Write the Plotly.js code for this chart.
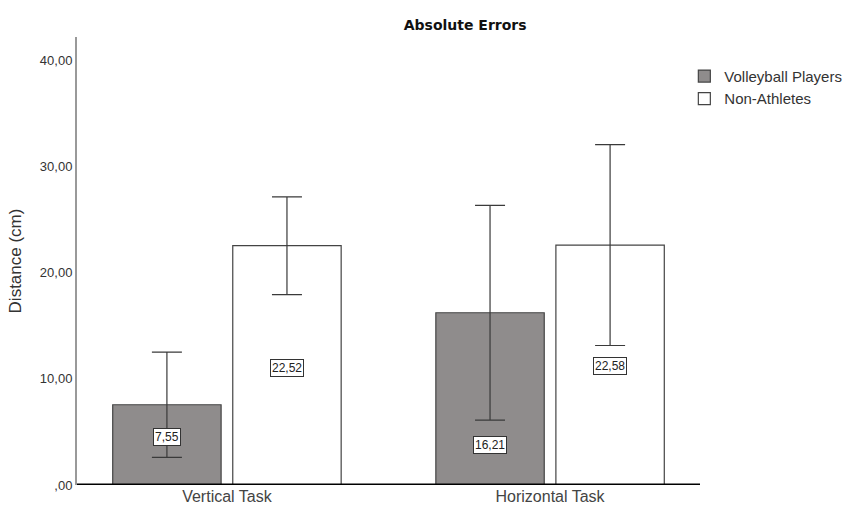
<!DOCTYPE html>
<html>
<head>
<meta charset="utf-8">
<script src="https://cdn.plot.ly/plotly-3.0.1.min.js"></script>
<style>html,body{margin:0;padding:0;background:#fff;}#chart{width:848px;height:507px;}</style>
</head>
<body>
<div id="chart"></div>
<script>
const categories = ["Vertical Task", "Horizontal Task"];
const seriesNames = ["Volleyball Players", "Non-Athletes"];
const volleyMeans = [7.55, 16.21];
const volleyErr = [4.95, 10.1];
const nonAthMeans = [22.52, 22.58];
const nonAthErr = [4.6, 9.45];
const valueLabels = [["7,55", "16,21"], ["22,52", "22,58"]];
const yTickVals = [0, 10, 20, 30, 40];
const yTickText = [",00", "10,00", "20,00", "30,00", "40,00"];

const errStyle = {type: 'data', visible: true, color: '#3a3a3a', thickness: 1.2, width: 15};
const traces = [
  {type: 'bar', name: seriesNames[0], x: categories, y: volleyMeans,
   error_y: Object.assign({array: volleyErr}, errStyle),
   marker: {color: '#8f8c8c', line: {color: '#444', width: 1.2}}},
  {type: 'bar', name: seriesNames[1], x: categories, y: nonAthMeans,
   error_y: Object.assign({array: nonAthErr}, errStyle),
   marker: {color: '#ffffff', line: {color: '#444', width: 1.2}}}
];

// label vertical positions (fraction of bar height) and horizontal offsets per series
const labelYFrac = [[0.6, 0.235], [0.49, 0.495]];
const offsets = [-0.186, 0.186];
const annotations = [];
[volleyMeans, nonAthMeans].forEach((arr, s) => {
  arr.forEach((v, i) => {
    annotations.push({
      x: i + offsets[s], y: v * labelYFrac[s][i], xref: 'x', yref: 'y',
      text: valueLabels[s][i], showarrow: false,
      font: {family: 'Arial, Liberation Sans, sans-serif', size: 12, color: '#222'},
      bgcolor: '#ffffff', bordercolor: '#333', borderwidth: 1, borderpad: 1
    });
  });
});

const layout = {
  width: 848, height: 507,
  margin: {l: 77, r: 148, t: 37, b: 22, pad: 0, autoexpand: false},
  paper_bgcolor: '#fff', plot_bgcolor: '#fff',
  barmode: 'group', bargap: 0.257, bargroupgap: 0.097,
  title: {text: '<b>Absolute Errors</b>', x: 0.623, xref: 'paper', xanchor: 'center', y: 0.95, yanchor: 'middle',
          font: {family: 'DejaVu Sans, sans-serif', size: 14, color: '#111'}},
  xaxis: {type: 'category', range: [-0.464, 1.464], showgrid: false, zeroline: false,
          showline: false, ticks: '', tickfont: {family: 'Arial, Liberation Sans, sans-serif', size: 16, color: '#444'}},
  yaxis: {range: [0, 42.16], tickvals: yTickVals, ticktext: yTickText, showgrid: false, zeroline: false,
          showline: true, linecolor: '#999', linewidth: 2, ticks: '', ticklen: 0,
          tickfont: {family: 'Arial, Liberation Sans, sans-serif', size: 13, color: '#333'},
          title: {text: 'Distance (cm)', standoff: 14, font: {family: 'Arial, Liberation Sans, sans-serif', size: 17, color: '#333'}}},
  legend: {xref: 'container', yref: 'container', x: 0.807, y: 0.882, xanchor: 'left', yanchor: 'top', bgcolor: 'rgba(0,0,0,0)',
           font: {family: 'Arial, Liberation Sans, sans-serif', size: 15, color: '#333'},
           itemwidth: 30, tracegroupgap: 0},
  shapes: [{type: 'line', xref: 'paper', yref: 'y', x0: 0, x1: 1, y0: 0, y1: 0,
            line: {color: '#000', width: 3}}],
  annotations: annotations,
  showlegend: true
};

Plotly.newPlot('chart', traces, layout, {displayModeBar: false, staticPlot: true});
</script>
</body>
</html>
